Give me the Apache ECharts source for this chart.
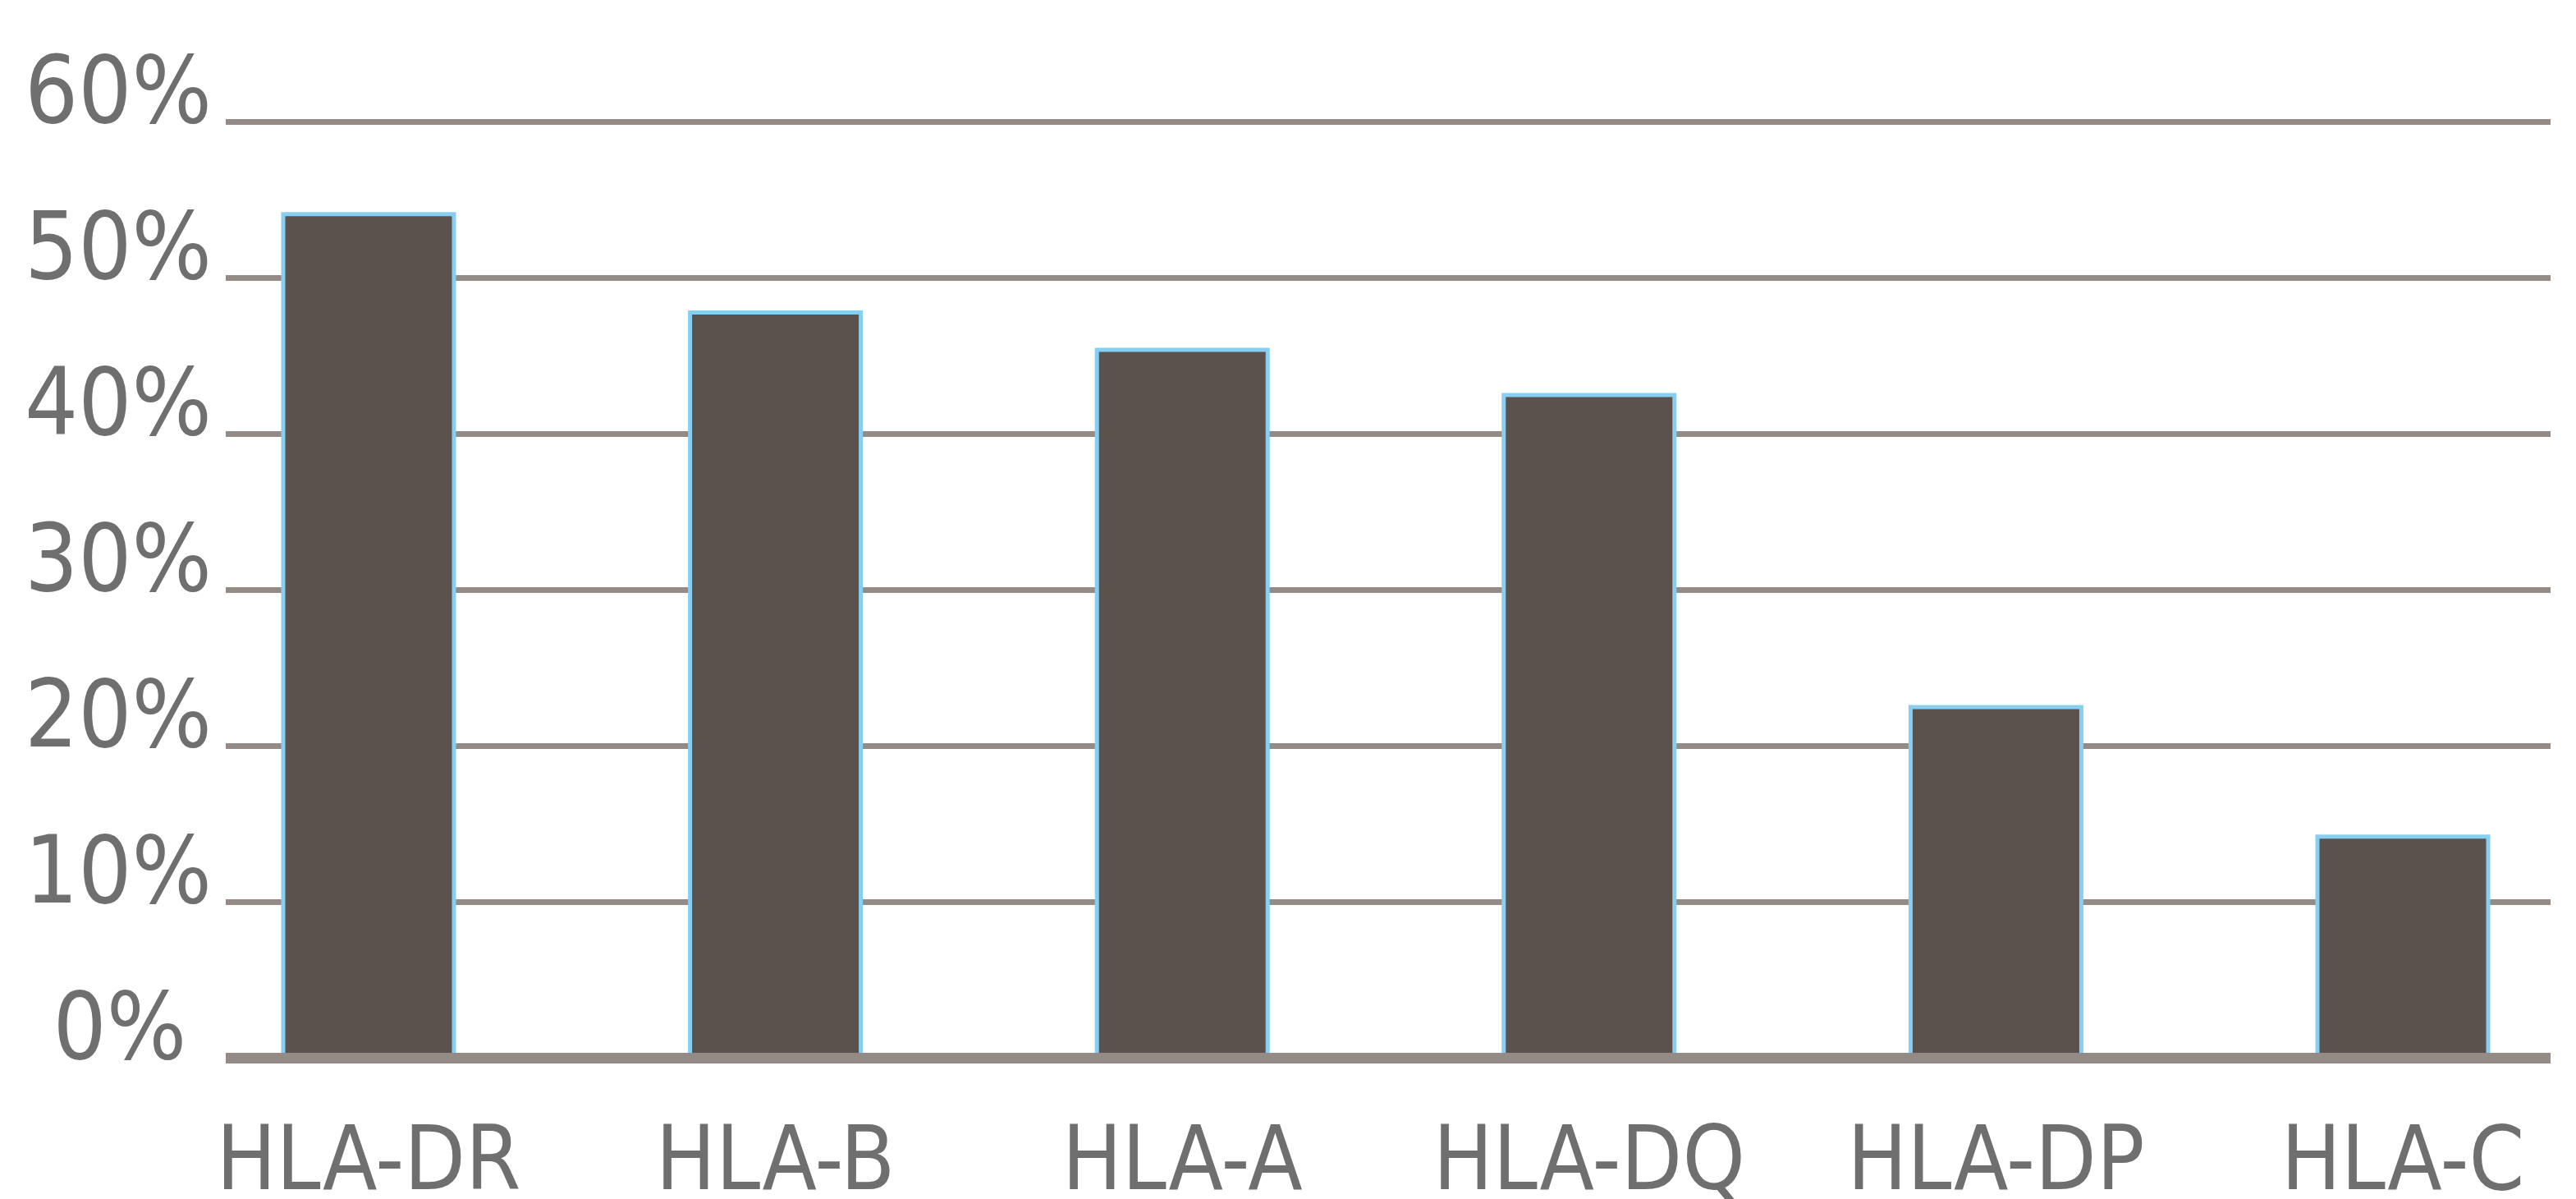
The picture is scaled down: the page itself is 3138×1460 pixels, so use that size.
<!DOCTYPE html>
<html>
<head>
<meta charset="utf-8">
<script src="https://cdn.jsdelivr.net/npm/echarts@6/dist/echarts.min.js"></script>
<style>
  html, body { margin: 0; padding: 0; background: #ffffff; }
  #chart { width: 3138px; height: 1460px; }
</style>
</head>
<body>
<div id="chart"></div>
<script>
const categories = ['HLA-DR', 'HLA-B', 'HLA-A', 'HLA-DQ', 'HLA-DP', 'HLA-C'];
const values = [54.2, 47.9, 45.5, 42.6, 22.6, 14.3];
const yTicks = [0, 10, 20, 30, 40, 50, 60];

const FONT = '"DejaVu Sans Condensed", "Liberation Sans Narrow", "Noto Sans", sans-serif';
const LABEL_COLOR = '#6f6f6f';
const GRID_COLOR = '#958b86';
const BAR_COLOR = '#5b514d';

const chart = echarts.init(document.getElementById('chart'), null, { renderer: 'canvas' });

const yBase = {
  type: 'value',
  min: yTicks[0],
  max: yTicks[yTicks.length - 1],
  interval: 10
};

chart.setOption({
  animation: false,
  backgroundColor: '#ffffff',
  grid: [
    { left: 275, right: 31, top: 148, bottom: 172, containLabel: false, outerBoundsMode: 'none' },
    { left: 449, width: 2478, top: 148, bottom: 172, containLabel: false, outerBoundsMode: 'none' }
  ],
  xAxis: [
    {
      gridIndex: 0,
      type: 'category',
      data: categories,
      axisLine: { show: true, lineStyle: { color: GRID_COLOR, width: 13, cap: 'butt' } },
      axisTick: { show: false },
      axisLabel: { show: false },
      splitLine: { show: false },
      z: 5
    },
    {
      gridIndex: 1,
      type: 'category',
      data: categories,
      boundaryGap: false,
      axisLine: { show: false },
      axisTick: { show: false },
      splitLine: { show: false },
      axisLabel: {
        show: true,
        interval: 0,
        color: LABEL_COLOR,
        fontFamily: FONT,
        fontSize: 108,
        lineHeight: 108,
        margin: 78
      }
    }
  ],
  yAxis: [
    Object.assign({}, yBase, {
      gridIndex: 0,
      axisLine: { show: false },
      axisTick: { show: false },
      splitLine: { show: true, lineStyle: { color: GRID_COLOR, width: 7 } },
      axisLabel: {
        show: true,
        margin: 17,
        color: LABEL_COLOR,
        fontFamily: FONT,
        fontSize: 114,
        lineHeight: 58,
        verticalAlign: 'bottom',
        formatter: function (v) {
          return v === 0 ? v + '%\u2009\u200A' : v + '%';
        }
      }
    }),
    Object.assign({}, yBase, {
      gridIndex: 1,
      show: false,
      splitLine: { show: false }
    })
  ],
  series: [
    {
      type: 'bar',
      xAxisIndex: 1,
      yAxisIndex: 1,
      data: values,
      barWidth: 213,
      clip: false,
      itemStyle: {
        color: BAR_COLOR,
        borderColor: '#86cff2',
        borderWidth: 5
      },
      z: 3
    }
  ]
});
</script>
</body>
</html>
